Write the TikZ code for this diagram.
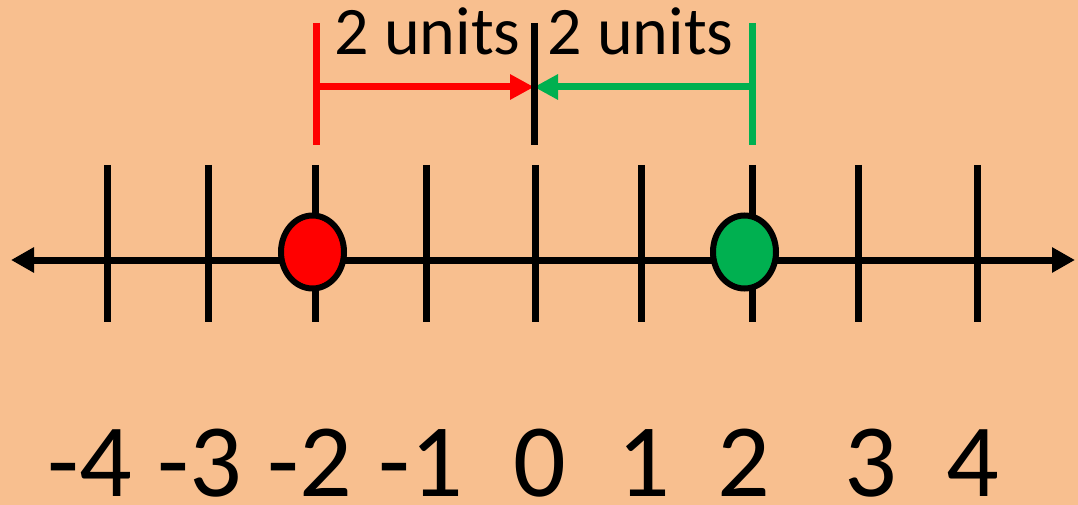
\documentclass[tikz,border=0pt]{standalone}
\usepackage{fontspec}
\setmainfont{Carlito}
\usetikzlibrary{arrows.meta,shapes.geometric}
\definecolor{bgpeach}{HTML}{F8BF8F}
\definecolor{ptred}{HTML}{FF0000}
\definecolor{ptgreen}{HTML}{00B050}
\tikzset{
  axisline/.style={line width=7pt, black, {Triangle[length=23pt,width=24pt]}-{Triangle[length=23pt,width=24pt]}},
  tickline/.style={line width=7pt, black},
  markline/.style={line width=7pt},
  distarrow/.style={line width=7pt, -{Triangle[length=24pt,width=24pt]}},
  dot/.style={ellipse, draw=black, line width=6pt, inner sep=0pt, minimum width=63pt, minimum height=73pt},
  numlabel/.style={anchor=base, inner sep=0pt, text depth=0pt, font=\fontsize{104}{104}\selectfont},
  unitlabel/.style={anchor=base, inner sep=0pt, font=\fontsize{68}{68}\selectfont}
}
\begin{document}
\begin{tikzpicture}[x=1pt,y=-1pt]
\fill[bgpeach] (0,0) rectangle (1078,505);
\useasboundingbox (0,0) rectangle (1078,505);
% axis
\coordinate (L) at (11,260);
\coordinate (R) at (1075,260);
\draw[axisline] (L) -- (R);
% ticks
\foreach \n/\x in {m4/107, m3/208, m2/315, m1/426, z/535, p1/641, p2/752, p3/858, p4/977} {
  \coordinate (t\n) at (\x,165);
  \coordinate (b\n) at (\x,322);
  \draw[tickline] (t\n) -- (b\n);
}
% dots
\node[dot, fill=ptred] (reddot) at (312.5,252) {};
\node[dot, fill=ptgreen] (greendot) at (744.5,252) {};
% marker lines
\coordinate (rtop) at (316,23);
\coordinate (rbot) at (316,145);
\coordinate (ztop) at (534,23);
\coordinate (zbot) at (534,145);
\coordinate (gtop) at (752,23);
\coordinate (gbot) at (752,145);
\coordinate (rmid) at (316,87);
\coordinate (zmid) at (534,87);
\coordinate (gmid) at (752,87);
\draw[markline, ptred] (rtop) -- (rbot);
\draw[markline, ptgreen] (gtop) -- (gbot);
\draw[distarrow, ptred] (rmid) -- (zmid);
\draw[distarrow, ptgreen] (gmid) -- (zmid);
\draw[markline, black] (ztop) -- (zbot);
% unit labels
\node[unitlabel] (u1) at (427.5,55) {2 units};
\node[unitlabel] (u2) at (640.5,55) {2 units};
% number labels
\node[numlabel] (lm4) at (90,496) {-4};
\node[numlabel] (lm3) at (200,496) {-3};
\node[numlabel] (lm2) at (310,496) {-2};
\node[numlabel] (lm1) at (421,496) {-1};
\node[numlabel] (lz) at (540,496) {0};
\node[numlabel] (lp1) at (644,496) {1};
\node[numlabel] (lp2) at (744,496) {2};
\node[numlabel] (lp3) at (871,496) {3};
\node[numlabel] (lp4) at (973,496) {4};
\end{tikzpicture}
\end{document}
